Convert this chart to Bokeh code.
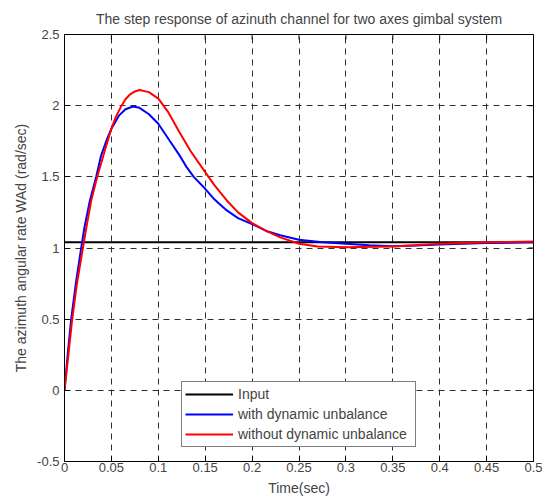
import math
from bokeh.plotting import figure
from bokeh.models import FixedTicker, Range1d, Legend, LegendItem
from bokeh.embed import file_html
from bokeh.resources import INLINE

# ---- data ----
t_input = [0.0, 0.5]
v_input = [1.04, 1.04]

t_with = [0, 0.0035, 0.0071, 0.0125, 0.0178, 0.0213, 0.0271, 0.0338, 0.039, 0.045,
          0.05, 0.058, 0.065, 0.073, 0.08, 0.09, 0.1, 0.1125, 0.1237, 0.13, 0.1378,
          0.15, 0.16, 0.173, 0.185, 0.2, 0.215, 0.23, 0.25, 0.275, 0.3, 0.325, 0.35,
          0.375, 0.4, 0.45, 0.5]
v_with = [0, 0.26, 0.5, 0.77, 1.0, 1.146, 1.334, 1.5, 1.65, 1.76,
          1.838, 1.93, 1.975, 1.994, 1.985, 1.94, 1.873, 1.75, 1.64, 1.57, 1.5,
          1.416, 1.34, 1.264, 1.21, 1.168, 1.12, 1.09, 1.058, 1.04, 1.03, 1.02, 1.013,
          1.018, 1.025, 1.035, 1.04]

t_without = [0, 0.004, 0.0077, 0.013, 0.0196, 0.024, 0.0285, 0.0349, 0.044, 0.05,
             0.055, 0.06, 0.065, 0.07, 0.075, 0.08, 0.09, 0.1, 0.11, 0.122, 0.134,
             0.15, 0.16, 0.173, 0.185, 0.2, 0.215, 0.23, 0.25, 0.27, 0.3, 0.35, 0.4,
             0.45, 0.5]
v_without = [0, 0.24, 0.47, 0.74, 1.0, 1.17, 1.334, 1.5, 1.708, 1.838,
             1.925, 1.99, 2.045, 2.08, 2.1, 2.11, 2.095, 2.05, 1.96, 1.82, 1.685,
             1.533, 1.44, 1.334, 1.25, 1.175, 1.12, 1.075, 1.03, 1.01, 1.005, 1.01, 1.03,
             1.04, 1.045]

x_ticks = [0, 0.05, 0.1, 0.15, 0.2, 0.25, 0.3, 0.35, 0.4, 0.45, 0.5]
x_tick_labels = ["0", "0.05", "0.1", "0.15", "0.2", "0.25", "0.3", "0.35", "0.4", "0.45", "0.5"]
y_ticks = [-0.5, 0, 0.5, 1, 1.5, 2, 2.5]
y_tick_labels = ["-0.5", "0", "0.5", "1", "1.5", "2", "2.5"]

series_names = ["Input", "with dynamic unbalance", "without dynamic unbalance"]
series_colors = ["#000000", "#0000ff", "#ff0000"]

FONT = "Liberation Sans"

p = figure(width=547, height=499, output_backend="svg", toolbar_location=None,
           x_range=Range1d(x_ticks[0], x_ticks[-1]), y_range=Range1d(y_ticks[0], y_ticks[-1]),
           title="The step response of azinuth channel for two axes gimbal system",
           min_border_left=64, min_border_right=14, min_border_top=34, min_border_bottom=38)

p.title.align = "center"
p.title.text_font = FONT
p.title.text_font_size = "14px"
p.title.text_font_style = "normal"
p.title.offset = 0
p.title.standoff = 15

p.outline_line_color = "black"
p.outline_line_width = 1
p.background_fill_color = "white"
p.border_fill_color = "white"

for ax in (p.xaxis[0], p.yaxis[0]):
    ax.major_label_text_font = FONT
    ax.major_label_text_font_size = "13px"
    ax.axis_label_text_font = FONT
    ax.axis_label_text_font_size = "14px"
    ax.axis_label_text_font_style = "normal"
    ax.major_tick_in = 5
    ax.major_tick_out = 0
    ax.minor_tick_in = 0
    ax.minor_tick_out = 0
    ax.axis_line_color = "black"
    ax.major_tick_line_color = "black"

p.xaxis[0].ticker = FixedTicker(ticks=x_ticks)
p.xaxis[0].major_label_overrides = dict(zip(x_ticks, x_tick_labels))
p.xaxis[0].axis_label = "Time(sec)"
p.xaxis[0].major_label_standoff = 1
p.xaxis[0].axis_label_standoff = 5

p.yaxis[0].ticker = FixedTicker(ticks=y_ticks)
p.yaxis[0].major_label_overrides = dict(zip(y_ticks, y_tick_labels))
p.yaxis[0].axis_label = "The azimuth angular rate WAd (rad/sec)"
p.yaxis[0].major_label_standoff = 5
p.yaxis[0].axis_label_standoff = 5

for g in (p.xgrid[0], p.ygrid[0]):
    g.grid_line_color = "#303030"
    g.grid_line_dash = "6 5"
    g.grid_line_width = 1
p.xgrid[0].ticker = FixedTicker(ticks=x_ticks)
p.ygrid[0].ticker = FixedTicker(ticks=y_ticks)

# inward ticks on top and right frame edges (clipped to the frame)
p.scatter(x_ticks, [y_ticks[-1]] * len(x_ticks), marker="dash", angle=math.pi / 2,
          size=10, line_color="black", line_width=1)
p.scatter([x_ticks[-1]] * len(y_ticks), y_ticks, marker="dash",
          size=10, line_color="black", line_width=1)

r_in = p.line(t_input, v_input, line_color=series_colors[0], line_width=2)
r_with = p.line(t_with, v_with, line_color=series_colors[1], line_width=2)
r_without = p.line(t_without, v_without, line_color=series_colors[2], line_width=2)

legend = Legend(items=[LegendItem(label=series_names[0], renderers=[r_in]),
                       LegendItem(label=series_names[1], renderers=[r_with]),
                       LegendItem(label=series_names[2], renderers=[r_without])],
                location=(117, 14))
legend.label_text_font = FONT
legend.label_text_font_size = "14px"
legend.border_line_color = "black"
legend.border_line_width = 1
legend.background_fill_alpha = 1
legend.padding = 3
legend.margin = 0
legend.spacing = 2
legend.label_height = 18
legend.glyph_height = 18
legend.glyph_width = 48
legend.label_width = 174
legend.label_standoff = 5
p.add_layout(legend, "center")

open("out.html", "w").write(file_html(p, INLINE))
